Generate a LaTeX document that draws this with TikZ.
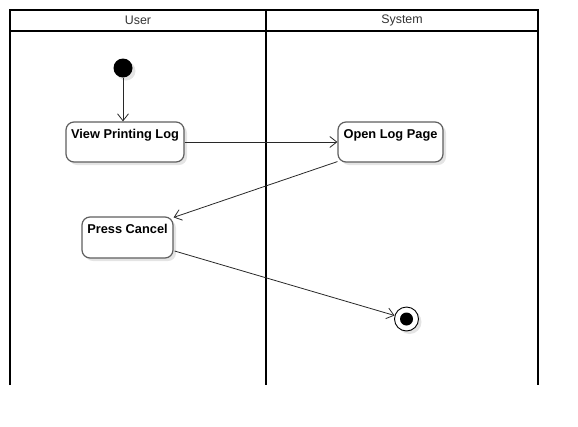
\documentclass[tikz,border=0pt]{standalone}
\usepackage{fontspec}
\setmainfont{Liberation Sans}
\usetikzlibrary{arrows.meta,shadows,calc}
\definecolor{boxline}{RGB}{95,95,95}
\definecolor{arrowcol}{RGB}{40,40,40}
\definecolor{headtext}{RGB}{51,51,51}
\definecolor{shade}{RGB}{228,228,228}
\tikzset{
  lane/.style={line width=1.8pt, black},
  headlbl/.style={font=\fontsize{12.4}{14}\selectfont, text=headtext, inner sep=0pt},
  actbox/.style={draw=boxline, line width=1.2pt, fill=white, rounded corners=8pt,
    minimum height=40pt, inner sep=0pt,
    drop shadow={shadow xshift=3pt, shadow yshift=-3pt, fill=shade, opacity=1}},
  acttext/.style={font=\bfseries\fontsize{12.8}{15}\selectfont, inner sep=0pt, anchor=base},
  flow/.style={draw=arrowcol, line width=0.8pt, -{Straight Barb[length=7pt,width=11pt]}},
  startdot/.style={circle, fill=black, minimum size=19pt, inner sep=0pt,
    drop shadow={shadow xshift=3pt, shadow yshift=-3pt, fill=shade, opacity=1}},
  enddot/.style={circle, draw=black, line width=0.9pt, fill=white, minimum size=24pt, inner sep=0pt,
    drop shadow={shadow xshift=3pt, shadow yshift=-3pt, fill=shade, opacity=1}},
  endcore/.style={circle, fill=black, minimum size=13pt, inner sep=0pt}
}
\begin{document}
\begin{tikzpicture}[x=1pt,y=-1pt]
\useasboundingbox (0,0) rectangle (578,426);
% swimlanes
\draw[lane] (10,385) -- (10,10) -- (538,10) -- (538,385);
\draw[lane] (10,31) -- (538,31);
\draw[lane] (266,10) -- (266,385);
\node[headlbl] (huser) at (138,20.5) {User};
\node[headlbl] (hsys) at (402,20.5) {System};
% nodes
\node[startdot] (init) at (123,68) {};
\node[actbox, minimum width=118pt] (vpl) at (125,142) {};
\node[acttext] (vplt) at ($(vpl.north)+(0,17.5)$) {View Printing Log};
\node[actbox, minimum width=105pt] (olp) at (390.5,142) {};
\node[acttext] (olpt) at ($(olp.north)+(0,17.5)$) {Open Log Page};
\node[actbox, minimum width=91pt, minimum height=41pt] (pc) at (127.5,237.5) {};
\node[acttext] (pct) at ($(pc.north)+(0,17.5)$) {Press Cancel};
\node[enddot] (endn) at (406.5,319) {};
\node[endcore] (endc) at (endn) {};
% connectors
\draw[flow] (init) -- (init |- vpl.north);
\draw[flow] (vpl.east) -- (olp.west);
\draw[flow] ($(olp.south west)+(0,-1)$) -- ($(pc.north east)+(0,1)$);
\draw[flow] ($(pc.east)+(1,13.5)$) -- (endn);
\end{tikzpicture}
\end{document}
